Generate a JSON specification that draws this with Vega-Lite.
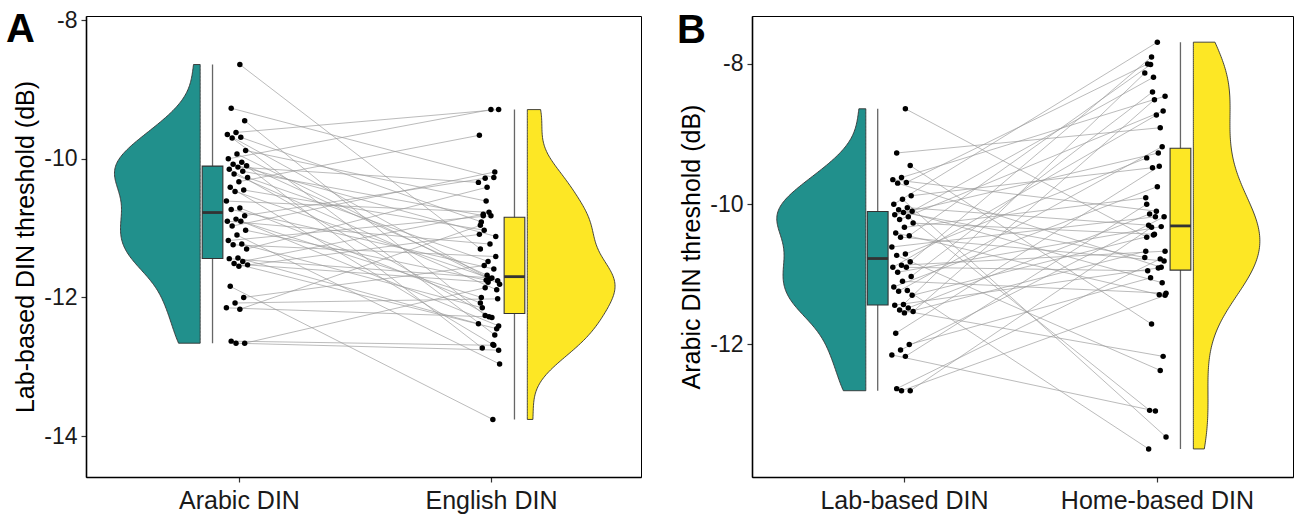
{
"$schema": "https://vega.github.io/schema/vega-lite/v6.json",
"padding": {"left": 5, "top": 8, "right": 2, "bottom": 2},
"background": "white",
"spacing": 34,
"config": {
  "font": "Liberation Sans",
  "view": {"stroke": "#000", "strokeWidth": 1},
  "axis": {"grid": false, "domainColor": "#000", "domainWidth": 1.6, "tickColor": "#333", "tickWidth": 1.2, "tickSize": 5, "labelFontSize": 25, "labelColor": "#1a1a1a", "labelPadding": 5, "labelLimit": 400, "titleFontSize": 25, "titleFontWeight": "normal", "titleColor": "#000", "labelFont": "Liberation Sans", "titleFont": "Liberation Sans"},
  "axisY": {"titlePadding": 5, "labelFontSize": 23, "labelPadding": 4},
  "axisX": {"labelPadding": 6}
},
"resolve": {"scale": {"color": "independent"}},
"datasets": {
"A": [
{"id":1,"cond":"Arabic DIN","val":-8.64},{"id":1,"cond":"English DIN","val":-11.30},
{"id":2,"cond":"Arabic DIN","val":-9.27},{"id":2,"cond":"English DIN","val":-10.27},
{"id":3,"cond":"Arabic DIN","val":-9.45},{"id":3,"cond":"English DIN","val":-12.26},
{"id":4,"cond":"Arabic DIN","val":-9.62},{"id":4,"cond":"English DIN","val":-9.29},
{"id":5,"cond":"Arabic DIN","val":-9.65},{"id":5,"cond":"English DIN","val":-11.73},
{"id":6,"cond":"Arabic DIN","val":-9.69},{"id":6,"cond":"English DIN","val":-10.91},
{"id":7,"cond":"Arabic DIN","val":-9.70},{"id":7,"cond":"English DIN","val":-12.54},
{"id":8,"cond":"Arabic DIN","val":-9.88},{"id":8,"cond":"English DIN","val":-10.61},
{"id":9,"cond":"Arabic DIN","val":-9.93},{"id":9,"cond":"English DIN","val":-11.81},
{"id":10,"cond":"Arabic DIN","val":-10.00},{"id":10,"cond":"English DIN","val":-9.29},
{"id":11,"cond":"Arabic DIN","val":-10.05},{"id":11,"cond":"English DIN","val":-12.73},
{"id":12,"cond":"Arabic DIN","val":-10.08},{"id":12,"cond":"English DIN","val":-11.12},
{"id":13,"cond":"Arabic DIN","val":-10.10},{"id":13,"cond":"English DIN","val":-11.68},
{"id":14,"cond":"Arabic DIN","val":-10.12},{"id":14,"cond":"English DIN","val":-10.34},
{"id":15,"cond":"Arabic DIN","val":-10.15},{"id":15,"cond":"English DIN","val":-12.29},
{"id":16,"cond":"Arabic DIN","val":-10.18},{"id":16,"cond":"English DIN","val":-10.82},
{"id":17,"cond":"Arabic DIN","val":-10.22},{"id":17,"cond":"English DIN","val":-11.89},
{"id":18,"cond":"Arabic DIN","val":-10.27},{"id":18,"cond":"English DIN","val":-11.48},
{"id":19,"cond":"Arabic DIN","val":-10.33},{"id":19,"cond":"English DIN","val":-9.66},
{"id":20,"cond":"Arabic DIN","val":-10.41},{"id":20,"cond":"English DIN","val":-12.68},
{"id":21,"cond":"Arabic DIN","val":-10.45},{"id":21,"cond":"English DIN","val":-11.03},
{"id":22,"cond":"Arabic DIN","val":-10.47},{"id":22,"cond":"English DIN","val":-11.76},
{"id":23,"cond":"Arabic DIN","val":-10.61},{"id":23,"cond":"English DIN","val":-10.77},
{"id":24,"cond":"Arabic DIN","val":-10.71},{"id":24,"cond":"English DIN","val":-12.08},
{"id":25,"cond":"Arabic DIN","val":-10.73},{"id":25,"cond":"English DIN","val":-11.59},
{"id":26,"cond":"Arabic DIN","val":-10.82},{"id":26,"cond":"English DIN","val":-10.28},
{"id":27,"cond":"Arabic DIN","val":-10.87},{"id":27,"cond":"English DIN","val":-12.41},
{"id":28,"cond":"Arabic DIN","val":-10.90},{"id":28,"cond":"English DIN","val":-11.23},
{"id":29,"cond":"Arabic DIN","val":-10.90},{"id":29,"cond":"English DIN","val":-12.00},
{"id":30,"cond":"Arabic DIN","val":-10.97},{"id":30,"cond":"English DIN","val":-10.19},
{"id":31,"cond":"Arabic DIN","val":-11.03},{"id":31,"cond":"English DIN","val":-11.75},
{"id":32,"cond":"Arabic DIN","val":-11.10},{"id":32,"cond":"English DIN","val":-12.96},
{"id":33,"cond":"Arabic DIN","val":-11.18},{"id":33,"cond":"English DIN","val":-10.82},
{"id":34,"cond":"Arabic DIN","val":-11.23},{"id":34,"cond":"English DIN","val":-12.15},
{"id":35,"cond":"Arabic DIN","val":-11.24},{"id":35,"cond":"English DIN","val":-11.41},
{"id":36,"cond":"Arabic DIN","val":-11.30},{"id":36,"cond":"English DIN","val":-10.41},
{"id":37,"cond":"Arabic DIN","val":-11.43},{"id":37,"cond":"English DIN","val":-12.38},
{"id":38,"cond":"Arabic DIN","val":-11.44},{"id":38,"cond":"English DIN","val":-11.72},
{"id":39,"cond":"Arabic DIN","val":-11.48},{"id":39,"cond":"English DIN","val":-10.80},
{"id":40,"cond":"Arabic DIN","val":-11.51},{"id":40,"cond":"English DIN","val":-12.45},
{"id":41,"cond":"Arabic DIN","val":-11.53},{"id":41,"cond":"English DIN","val":-11.78},
{"id":42,"cond":"Arabic DIN","val":-11.55},{"id":42,"cond":"English DIN","val":-11.09},
{"id":43,"cond":"Arabic DIN","val":-11.84},{"id":43,"cond":"English DIN","val":-13.76},
{"id":44,"cond":"Arabic DIN","val":-12.00},{"id":44,"cond":"English DIN","val":-11.54},
{"id":45,"cond":"Arabic DIN","val":-12.08},{"id":45,"cond":"English DIN","val":-12.02},
{"id":46,"cond":"Arabic DIN","val":-12.15},{"id":46,"cond":"English DIN","val":-12.28},
{"id":47,"cond":"Arabic DIN","val":-12.17},{"id":47,"cond":"English DIN","val":-10.96},
{"id":48,"cond":"Arabic DIN","val":-12.63},{"id":48,"cond":"English DIN","val":-12.69},
{"id":49,"cond":"Arabic DIN","val":-12.66},{"id":49,"cond":"English DIN","val":-11.86},
{"id":50,"cond":"Arabic DIN","val":-12.66},{"id":50,"cond":"English DIN","val":-12.76}
],
"B": [
{"id":1,"cond":"Lab-based DIN","val":-8.64},{"id":1,"cond":"Home-based DIN","val":-10.47},
{"id":2,"cond":"Lab-based DIN","val":-9.27},{"id":2,"cond":"Home-based DIN","val":-8.91},
{"id":3,"cond":"Lab-based DIN","val":-9.45},{"id":3,"cond":"Home-based DIN","val":-11.71},
{"id":4,"cond":"Lab-based DIN","val":-9.62},{"id":4,"cond":"Home-based DIN","val":-8.46},
{"id":5,"cond":"Lab-based DIN","val":-9.65},{"id":5,"cond":"Home-based DIN","val":-10.10},
{"id":6,"cond":"Lab-based DIN","val":-9.69},{"id":6,"cond":"Home-based DIN","val":-8.00},
{"id":7,"cond":"Lab-based DIN","val":-9.70},{"id":7,"cond":"Home-based DIN","val":-10.90},
{"id":8,"cond":"Lab-based DIN","val":-9.88},{"id":8,"cond":"Home-based DIN","val":-9.48},
{"id":9,"cond":"Lab-based DIN","val":-9.93},{"id":9,"cond":"Home-based DIN","val":-13.32},
{"id":10,"cond":"Lab-based DIN","val":-10.00},{"id":10,"cond":"Home-based DIN","val":-7.69},
{"id":11,"cond":"Lab-based DIN","val":-10.05},{"id":11,"cond":"Home-based DIN","val":-10.30},
{"id":12,"cond":"Lab-based DIN","val":-10.08},{"id":12,"cond":"Home-based DIN","val":-11.12},
{"id":13,"cond":"Lab-based DIN","val":-10.10},{"id":13,"cond":"Home-based DIN","val":-8.19},
{"id":14,"cond":"Lab-based DIN","val":-10.12},{"id":14,"cond":"Home-based DIN","val":-10.76},
{"id":15,"cond":"Lab-based DIN","val":-10.15},{"id":15,"cond":"Home-based DIN","val":-9.27},
{"id":16,"cond":"Lab-based DIN","val":-10.18},{"id":16,"cond":"Home-based DIN","val":-12.94},
{"id":17,"cond":"Lab-based DIN","val":-10.22},{"id":17,"cond":"Home-based DIN","val":-8.67},
{"id":18,"cond":"Lab-based DIN","val":-10.27},{"id":18,"cond":"Home-based DIN","val":-10.43},
{"id":19,"cond":"Lab-based DIN","val":-10.33},{"id":19,"cond":"Home-based DIN","val":-9.91},
{"id":20,"cond":"Lab-based DIN","val":-10.41},{"id":20,"cond":"Home-based DIN","val":-11.29},
{"id":21,"cond":"Lab-based DIN","val":-10.45},{"id":21,"cond":"Home-based DIN","val":-8.01},
{"id":22,"cond":"Lab-based DIN","val":-10.47},{"id":22,"cond":"Home-based DIN","val":-10.81},
{"id":23,"cond":"Lab-based DIN","val":-10.61},{"id":23,"cond":"Home-based DIN","val":-10.18},
{"id":24,"cond":"Lab-based DIN","val":-10.71},{"id":24,"cond":"Home-based DIN","val":-9.34},
{"id":25,"cond":"Lab-based DIN","val":-10.73},{"id":25,"cond":"Home-based DIN","val":-12.37},
{"id":26,"cond":"Lab-based DIN","val":-10.82},{"id":26,"cond":"Home-based DIN","val":-7.90},
{"id":27,"cond":"Lab-based DIN","val":-10.87},{"id":27,"cond":"Home-based DIN","val":-10.67},
{"id":28,"cond":"Lab-based DIN","val":-10.90},{"id":28,"cond":"Home-based DIN","val":-8.73},
{"id":29,"cond":"Lab-based DIN","val":-10.90},{"id":29,"cond":"Home-based DIN","val":-10.95},
{"id":30,"cond":"Lab-based DIN","val":-10.97},{"id":30,"cond":"Home-based DIN","val":-10.32},
{"id":31,"cond":"Lab-based DIN","val":-11.03},{"id":31,"cond":"Home-based DIN","val":-8.40},
{"id":32,"cond":"Lab-based DIN","val":-11.10},{"id":32,"cond":"Home-based DIN","val":-11.27},
{"id":33,"cond":"Lab-based DIN","val":-11.18},{"id":33,"cond":"Home-based DIN","val":-9.75},
{"id":34,"cond":"Lab-based DIN","val":-11.23},{"id":34,"cond":"Home-based DIN","val":-13.49},
{"id":35,"cond":"Lab-based DIN","val":-11.24},{"id":35,"cond":"Home-based DIN","val":-9.18},
{"id":36,"cond":"Lab-based DIN","val":-11.30},{"id":36,"cond":"Home-based DIN","val":-10.44},
{"id":37,"cond":"Lab-based DIN","val":-11.43},{"id":37,"cond":"Home-based DIN","val":-8.13},
{"id":38,"cond":"Lab-based DIN","val":-11.44},{"id":38,"cond":"Home-based DIN","val":-10.91},
{"id":39,"cond":"Lab-based DIN","val":-11.48},{"id":39,"cond":"Home-based DIN","val":-10.14},
{"id":40,"cond":"Lab-based DIN","val":-11.51},{"id":40,"cond":"Home-based DIN","val":-12.17},
{"id":41,"cond":"Lab-based DIN","val":-11.53},{"id":41,"cond":"Home-based DIN","val":-8.51},
{"id":42,"cond":"Lab-based DIN","val":-11.55},{"id":42,"cond":"Home-based DIN","val":-10.67},
{"id":43,"cond":"Lab-based DIN","val":-11.84},{"id":43,"cond":"Home-based DIN","val":-9.46},
{"id":44,"cond":"Lab-based DIN","val":-12.00},{"id":44,"cond":"Home-based DIN","val":-11.05},
{"id":45,"cond":"Lab-based DIN","val":-12.08},{"id":45,"cond":"Home-based DIN","val":-10.18},
{"id":46,"cond":"Lab-based DIN","val":-12.15},{"id":46,"cond":"Home-based DIN","val":-12.95},
{"id":47,"cond":"Lab-based DIN","val":-12.17},{"id":47,"cond":"Home-based DIN","val":-10.00},
{"id":48,"cond":"Lab-based DIN","val":-12.63},{"id":48,"cond":"Home-based DIN","val":-10.78},
{"id":49,"cond":"Lab-based DIN","val":-12.66},{"id":49,"cond":"Home-based DIN","val":-10.33},
{"id":50,"cond":"Lab-based DIN","val":-12.66},{"id":50,"cond":"Home-based DIN","val":-11.30}
]
},
"hconcat": [
{
 "width": 555, "height": 461,
 "title": {"text": "A", "orient": "none", "anchor": "start", "frame": "group", "fontSize": 40, "fontWeight": "bold", "font": "Liberation Sans", "baseline": "alphabetic", "offset": 0, "dx": -80, "dy": 26, "color": "#000"},
 "data": {"name": "A"},
 "transform": [{"calculate": "(datum.cond == 'Arabic DIN' ? 0.992 : 1.992) + ((((datum.id * 37 + (datum.cond == 'Arabic DIN' ? 0 : 11)) % 23) / 22) - 0.5) * 0.084", "as": "xj"}],
 "layer": [
  {"mark": {"type": "line", "color": "#999999", "strokeWidth": 0.9, "opacity": 0.75},
   "encoding": {
     "x": {"field": "xj", "type": "quantitative", "scale": {"domain": [0.393, 2.595], "nice": false, "zero": false}, "axis": {"values": [1, 2], "labelExpr": "datum.value == 1 ? 'Arabic DIN' : 'English DIN'"}, "title": null},
     "y": {"field": "val", "type": "quantitative", "scale": {"domain": [-14.59, -7.94], "nice": false, "zero": false}, "axis": {"values": [-8, -10, -12, -14], "labelExpr": "'-' + abs(datum.value)"}, "title": "Lab-based DIN threshold (dB)"},
     "detail": {"field": "id", "type": "nominal"}}},
  {"transform": [
     {"filter": "datum.cond == 'Arabic DIN'"},
     {"density": "val", "groupby": ["cond"], "bandwidth": 0.33, "steps": 200, "as": ["v", "dens"]},
     {"joinaggregate": [{"op": "max", "field": "dens", "as": "mx"}]},
     {"calculate": "0.846", "as": "xb"},
     {"calculate": "0.846 - datum.dens / datum.mx * 0.34", "as": "xe"}],
   "mark": {"type": "area", "orient": "horizontal", "stroke": "#333333", "strokeWidth": 0.9, "opacity": 1},
   "encoding": {
     "y": {"field": "v", "type": "quantitative", "scale": {"domain": [-14.59, -7.94], "nice": false, "zero": false}, "axis": {"values": [-8, -10, -12, -14], "labelExpr": "'-' + abs(datum.value)"}, "title": "Lab-based DIN threshold (dB)"},
     "x": {"field": "xe", "type": "quantitative", "scale": {"domain": [0.393, 2.595], "nice": false, "zero": false}, "axis": {"values": [1, 2], "labelExpr": "datum.value == 1 ? 'Arabic DIN' : 'English DIN'"}, "title": null},
     "x2": {"field": "xb"},
     "color": {"field": "cond", "type": "nominal", "scale": {"domain": ["Arabic DIN", "English DIN"], "range": ["#21908C", "#FDE725"]}, "legend": null}}},
  {"transform": [
     {"filter": "datum.cond == 'English DIN'"},
     {"density": "val", "groupby": ["cond"], "bandwidth": 0.33, "steps": 200, "as": ["v", "dens"]},
     {"joinaggregate": [{"op": "max", "field": "dens", "as": "mx"}]},
     {"calculate": "2.144", "as": "xb"},
     {"calculate": "2.144 + datum.dens / datum.mx * 0.348", "as": "xe"}],
   "mark": {"type": "area", "orient": "horizontal", "stroke": "#333333", "strokeWidth": 0.9, "opacity": 1},
   "encoding": {
     "y": {"field": "v", "type": "quantitative", "scale": {"domain": [-14.59, -7.94], "nice": false, "zero": false}, "axis": {"values": [-8, -10, -12, -14], "labelExpr": "'-' + abs(datum.value)"}, "title": "Lab-based DIN threshold (dB)"},
     "x": {"field": "xe", "type": "quantitative", "scale": {"domain": [0.393, 2.595], "nice": false, "zero": false}, "axis": {"values": [1, 2], "labelExpr": "datum.value == 1 ? 'Arabic DIN' : 'English DIN'"}, "title": null},
     "x2": {"field": "xb"},
     "color": {"field": "cond", "type": "nominal", "scale": {"domain": ["Arabic DIN", "English DIN"], "range": ["#21908C", "#FDE725"]}, "legend": null}}},
  {"transform": [
     {"aggregate": [{"op": "min", "field": "val", "as": "lo"}, {"op": "max", "field": "val", "as": "hi"}, {"op": "q1", "field": "val", "as": "q1"}, {"op": "median", "field": "val", "as": "md"}, {"op": "q3", "field": "val", "as": "q3"}], "groupby": ["cond"]},
     {"calculate": "datum.cond == 'Arabic DIN' ? 0.895 : 2.093", "as": "bx"},
     {"calculate": "datum.bx - 0.041", "as": "bx1"},
     {"calculate": "datum.bx + 0.041", "as": "bx2"}],
   "layer": [
     {"mark": {"type": "rule", "color": "#666666", "strokeWidth": 1.3},
      "encoding": {
        "x": {"field": "bx", "type": "quantitative", "scale": {"domain": [0.393, 2.595], "nice": false, "zero": false}, "axis": {"values": [1, 2], "labelExpr": "datum.value == 1 ? 'Arabic DIN' : 'English DIN'"}, "title": null},
        "y": {"field": "lo", "type": "quantitative", "scale": {"domain": [-14.59, -7.94], "nice": false, "zero": false}, "axis": {"values": [-8, -10, -12, -14], "labelExpr": "'-' + abs(datum.value)"}, "title": "Lab-based DIN threshold (dB)"},
        "y2": {"field": "hi"}}},
     {"mark": {"type": "rect", "stroke": "#333333", "strokeWidth": 1.1},
      "encoding": {
        "x": {"field": "bx1", "type": "quantitative", "scale": {"domain": [0.393, 2.595], "nice": false, "zero": false}, "axis": {"values": [1, 2], "labelExpr": "datum.value == 1 ? 'Arabic DIN' : 'English DIN'"}, "title": null},
        "x2": {"field": "bx2"},
        "y": {"field": "q1", "type": "quantitative", "scale": {"domain": [-14.59, -7.94], "nice": false, "zero": false}, "axis": {"values": [-8, -10, -12, -14], "labelExpr": "'-' + abs(datum.value)"}, "title": "Lab-based DIN threshold (dB)"},
        "y2": {"field": "q3"},
        "color": {"field": "cond", "type": "nominal", "scale": {"domain": ["Arabic DIN", "English DIN"], "range": ["#21908C", "#FDE725"]}, "legend": null}}},
     {"mark": {"type": "rule", "color": "#333333", "strokeWidth": 2.8},
      "encoding": {
        "x": {"field": "bx1", "type": "quantitative", "scale": {"domain": [0.393, 2.595], "nice": false, "zero": false}, "axis": {"values": [1, 2], "labelExpr": "datum.value == 1 ? 'Arabic DIN' : 'English DIN'"}, "title": null},
        "x2": {"field": "bx2"},
        "y": {"field": "md", "type": "quantitative", "scale": {"domain": [-14.59, -7.94], "nice": false, "zero": false}, "axis": {"values": [-8, -10, -12, -14], "labelExpr": "'-' + abs(datum.value)"}, "title": "Lab-based DIN threshold (dB)"}}}
   ]},
  {"mark": {"type": "circle", "color": "#000", "size": 30, "opacity": 1},
   "encoding": {
     "x": {"field": "xj", "type": "quantitative", "scale": {"domain": [0.393, 2.595], "nice": false, "zero": false}, "axis": {"values": [1, 2], "labelExpr": "datum.value == 1 ? 'Arabic DIN' : 'English DIN'"}, "title": null},
     "y": {"field": "val", "type": "quantitative", "scale": {"domain": [-14.59, -7.94], "nice": false, "zero": false}, "axis": {"values": [-8, -10, -12, -14], "labelExpr": "'-' + abs(datum.value)"}, "title": "Lab-based DIN threshold (dB)"}}}
 ]
},
{
 "width": 541, "height": 461,
 "title": {"text": "B", "orient": "none", "anchor": "start", "frame": "group", "fontSize": 40, "fontWeight": "bold", "font": "Liberation Sans", "baseline": "alphabetic", "offset": 0, "dx": -75, "dy": 27, "color": "#000"},
 "data": {"name": "B"},
 "transform": [{"calculate": "(datum.cond == 'Lab-based DIN' ? 0.994 : 1.994) + ((((datum.id * 37 + (datum.cond == 'Lab-based DIN' ? 0 : 11)) % 23) / 22) - 0.5) * 0.084", "as": "xj"}],
 "layer": [
  {"mark": {"type": "line", "color": "#999999", "strokeWidth": 0.9, "opacity": 0.75},
   "encoding": {
     "x": {"field": "xj", "type": "quantitative", "scale": {"domain": [0.399, 2.538], "nice": false, "zero": false}, "axis": {"values": [1, 2], "labelExpr": "datum.value == 1 ? 'Lab-based DIN' : 'Home-based DIN'"}, "title": null},
     "y": {"field": "val", "type": "quantitative", "scale": {"domain": [-13.89, -7.317], "nice": false, "zero": false}, "axis": {"values": [-8, -10, -12], "labelExpr": "'-' + abs(datum.value)"}, "title": "Arabic DIN threshold (dB)"},
     "detail": {"field": "id", "type": "nominal"}}},
  {"transform": [
     {"filter": "datum.cond == 'Lab-based DIN'"},
     {"density": "val", "groupby": ["cond"], "bandwidth": 0.33, "steps": 200, "as": ["v", "dens"]},
     {"joinaggregate": [{"op": "max", "field": "dens", "as": "mx"}]},
     {"calculate": "0.849", "as": "xb"},
     {"calculate": "0.849 - datum.dens / datum.mx * 0.352", "as": "xe"}],
   "mark": {"type": "area", "orient": "horizontal", "stroke": "#333333", "strokeWidth": 0.9, "opacity": 1},
   "encoding": {
     "y": {"field": "v", "type": "quantitative", "scale": {"domain": [-13.89, -7.317], "nice": false, "zero": false}, "axis": {"values": [-8, -10, -12], "labelExpr": "'-' + abs(datum.value)"}, "title": "Arabic DIN threshold (dB)"},
     "x": {"field": "xe", "type": "quantitative", "scale": {"domain": [0.399, 2.538], "nice": false, "zero": false}, "axis": {"values": [1, 2], "labelExpr": "datum.value == 1 ? 'Lab-based DIN' : 'Home-based DIN'"}, "title": null},
     "x2": {"field": "xb"},
     "color": {"field": "cond", "type": "nominal", "scale": {"domain": ["Lab-based DIN", "Home-based DIN"], "range": ["#21908C", "#FDE725"]}, "legend": null}}},
  {"transform": [
     {"filter": "datum.cond == 'Home-based DIN'"},
     {"density": "val", "groupby": ["cond"], "bandwidth": 0.54, "steps": 200, "as": ["v", "dens"]},
     {"joinaggregate": [{"op": "max", "field": "dens", "as": "mx"}]},
     {"calculate": "2.144", "as": "xb"},
     {"calculate": "2.144 + datum.dens / datum.mx * 0.263", "as": "xe"}],
   "mark": {"type": "area", "orient": "horizontal", "stroke": "#333333", "strokeWidth": 0.9, "opacity": 1},
   "encoding": {
     "y": {"field": "v", "type": "quantitative", "scale": {"domain": [-13.89, -7.317], "nice": false, "zero": false}, "axis": {"values": [-8, -10, -12], "labelExpr": "'-' + abs(datum.value)"}, "title": "Arabic DIN threshold (dB)"},
     "x": {"field": "xe", "type": "quantitative", "scale": {"domain": [0.399, 2.538], "nice": false, "zero": false}, "axis": {"values": [1, 2], "labelExpr": "datum.value == 1 ? 'Lab-based DIN' : 'Home-based DIN'"}, "title": null},
     "x2": {"field": "xb"},
     "color": {"field": "cond", "type": "nominal", "scale": {"domain": ["Lab-based DIN", "Home-based DIN"], "range": ["#21908C", "#FDE725"]}, "legend": null}}},
  {"transform": [
     {"aggregate": [{"op": "min", "field": "val", "as": "lo"}, {"op": "max", "field": "val", "as": "hi"}, {"op": "q1", "field": "val", "as": "q1"}, {"op": "median", "field": "val", "as": "md"}, {"op": "q3", "field": "val", "as": "q3"}], "groupby": ["cond"]},
     {"calculate": "datum.cond == 'Lab-based DIN' ? 0.896 : 2.093", "as": "bx"},
     {"calculate": "datum.bx - 0.041", "as": "bx1"},
     {"calculate": "datum.bx + 0.041", "as": "bx2"}],
   "layer": [
     {"mark": {"type": "rule", "color": "#666666", "strokeWidth": 1.3},
      "encoding": {
        "x": {"field": "bx", "type": "quantitative", "scale": {"domain": [0.399, 2.538], "nice": false, "zero": false}, "axis": {"values": [1, 2], "labelExpr": "datum.value == 1 ? 'Lab-based DIN' : 'Home-based DIN'"}, "title": null},
        "y": {"field": "lo", "type": "quantitative", "scale": {"domain": [-13.89, -7.317], "nice": false, "zero": false}, "axis": {"values": [-8, -10, -12], "labelExpr": "'-' + abs(datum.value)"}, "title": "Arabic DIN threshold (dB)"},
        "y2": {"field": "hi"}}},
     {"mark": {"type": "rect", "stroke": "#333333", "strokeWidth": 1.1},
      "encoding": {
        "x": {"field": "bx1", "type": "quantitative", "scale": {"domain": [0.399, 2.538], "nice": false, "zero": false}, "axis": {"values": [1, 2], "labelExpr": "datum.value == 1 ? 'Lab-based DIN' : 'Home-based DIN'"}, "title": null},
        "x2": {"field": "bx2"},
        "y": {"field": "q1", "type": "quantitative", "scale": {"domain": [-13.89, -7.317], "nice": false, "zero": false}, "axis": {"values": [-8, -10, -12], "labelExpr": "'-' + abs(datum.value)"}, "title": "Arabic DIN threshold (dB)"},
        "y2": {"field": "q3"},
        "color": {"field": "cond", "type": "nominal", "scale": {"domain": ["Lab-based DIN", "Home-based DIN"], "range": ["#21908C", "#FDE725"]}, "legend": null}}},
     {"mark": {"type": "rule", "color": "#333333", "strokeWidth": 2.8},
      "encoding": {
        "x": {"field": "bx1", "type": "quantitative", "scale": {"domain": [0.399, 2.538], "nice": false, "zero": false}, "axis": {"values": [1, 2], "labelExpr": "datum.value == 1 ? 'Lab-based DIN' : 'Home-based DIN'"}, "title": null},
        "x2": {"field": "bx2"},
        "y": {"field": "md", "type": "quantitative", "scale": {"domain": [-13.89, -7.317], "nice": false, "zero": false}, "axis": {"values": [-8, -10, -12], "labelExpr": "'-' + abs(datum.value)"}, "title": "Arabic DIN threshold (dB)"}}}
   ]},
  {"mark": {"type": "circle", "color": "#000", "size": 30, "opacity": 1},
   "encoding": {
     "x": {"field": "xj", "type": "quantitative", "scale": {"domain": [0.399, 2.538], "nice": false, "zero": false}, "axis": {"values": [1, 2], "labelExpr": "datum.value == 1 ? 'Lab-based DIN' : 'Home-based DIN'"}, "title": null},
     "y": {"field": "val", "type": "quantitative", "scale": {"domain": [-13.89, -7.317], "nice": false, "zero": false}, "axis": {"values": [-8, -10, -12], "labelExpr": "'-' + abs(datum.value)"}, "title": "Arabic DIN threshold (dB)"}}}
 ]
}
]
}
